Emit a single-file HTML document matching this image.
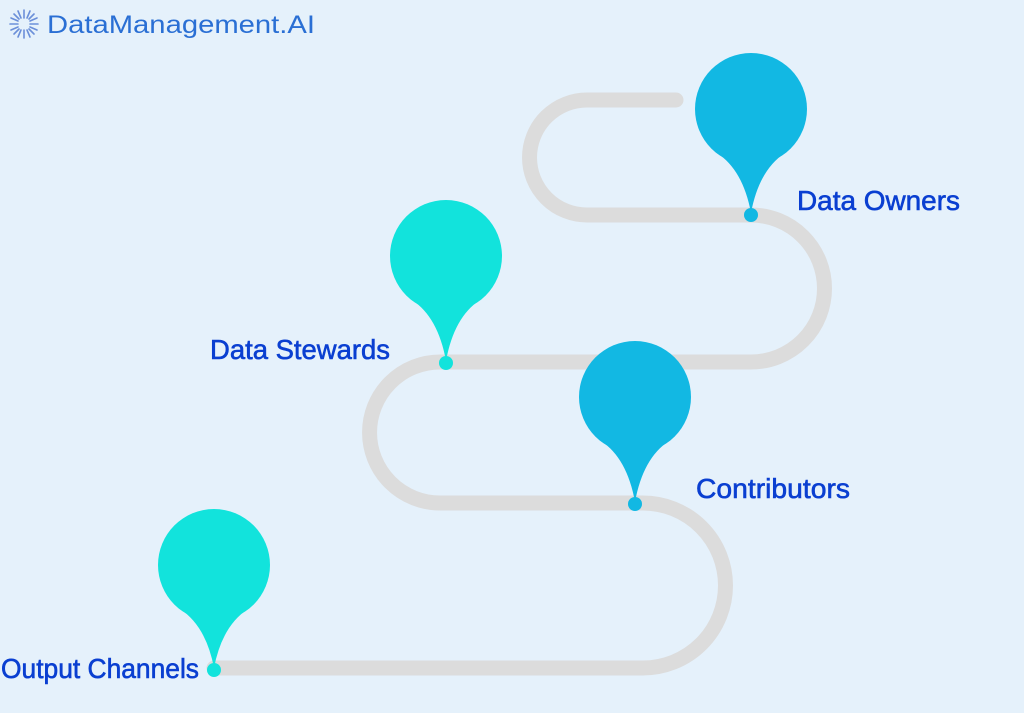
<!DOCTYPE html>
<html><head><meta charset="utf-8"><style>
html,body{margin:0;padding:0;background:#e5f1fb;width:1024px;height:713px;overflow:hidden}
</style></head><body>
<svg width="1024" height="713" viewBox="0 0 1024 713" xmlns="http://www.w3.org/2000/svg">
<rect width="1024" height="713" fill="#e5f1fb"/>
<g stroke="#6b8fd9" stroke-width="1.6" stroke-linecap="round">
<line x1="24" y1="10" x2="24" y2="18"/><line x1="24" y1="30" x2="24" y2="38"/>
<line x1="10" y1="24" x2="18" y2="24"/><line x1="30" y1="24" x2="38" y2="24"/>
<line x1="14" y1="14" x2="19" y2="19"/><line x1="29" y1="29" x2="34" y2="34"/>
<line x1="34" y1="14" x2="29" y2="19"/><line x1="19" y1="29" x2="14" y2="34"/>
<line x1="18" y1="11" x2="21" y2="18"/><line x1="30" y1="11" x2="27" y2="18"/>
<line x1="18" y1="37" x2="21" y2="30"/><line x1="30" y1="37" x2="27" y2="30"/>
<line x1="11" y1="18" x2="18" y2="21"/><line x1="11" y1="30" x2="18" y2="27"/>
<line x1="37" y1="18" x2="30" y2="21"/><line x1="37" y1="30" x2="30" y2="27"/>
</g>
<text x="47" y="33" font-family="Liberation Sans, sans-serif" font-size="25" fill="#2a6fd4" textLength="268" lengthAdjust="spacingAndGlyphs">DataManagement.AI</text>
<path d="M676,100 H587 A57.5 57.5 0 0 0 587,215 H751 A73.5 73.5 0 0 1 751,362 H440 A70.5 70.5 0 0 0 440,503 H643 A82.5 82.5 0 0 1 643,668 H214" fill="none" stroke="#dcdcdc" stroke-width="15" stroke-linecap="round"/>
<g fill="#12b8e3">
<circle cx="751" cy="109" r="56"/><path d="M717,153 Q743,170 751,213 Q759,170 785,153 Z"/><circle cx="751" cy="215" r="7"/>
<circle cx="635" cy="397" r="56"/><path d="M601,441 Q627,458 635,502 Q643,458 669,441 Z"/><circle cx="635" cy="504" r="7"/>
</g>
<g fill="#12e3dc">
<circle cx="446" cy="256" r="56"/><path d="M412,300 Q438,317 446,361 Q454,317 480,300 Z"/><circle cx="446" cy="363" r="7"/>
<circle cx="214" cy="565" r="56"/><path d="M180,609 Q206,626 214,668 Q222,626 248,609 Z"/><circle cx="214" cy="670" r="7"/>
</g>
<g font-family="Liberation Sans, sans-serif" font-size="28" fill="#0a3fd1" stroke="#0a3fd1" stroke-width="0.6">
<text x="797" y="210" textLength="163" lengthAdjust="spacingAndGlyphs">Data Owners</text>
<text x="210" y="359" textLength="180" lengthAdjust="spacingAndGlyphs">Data Stewards</text>
<text x="696" y="498" textLength="154" lengthAdjust="spacingAndGlyphs">Contributors</text>
<text x="1" y="678" textLength="198" lengthAdjust="spacingAndGlyphs">Output Channels</text>
</g>
</svg>
</body></html>
